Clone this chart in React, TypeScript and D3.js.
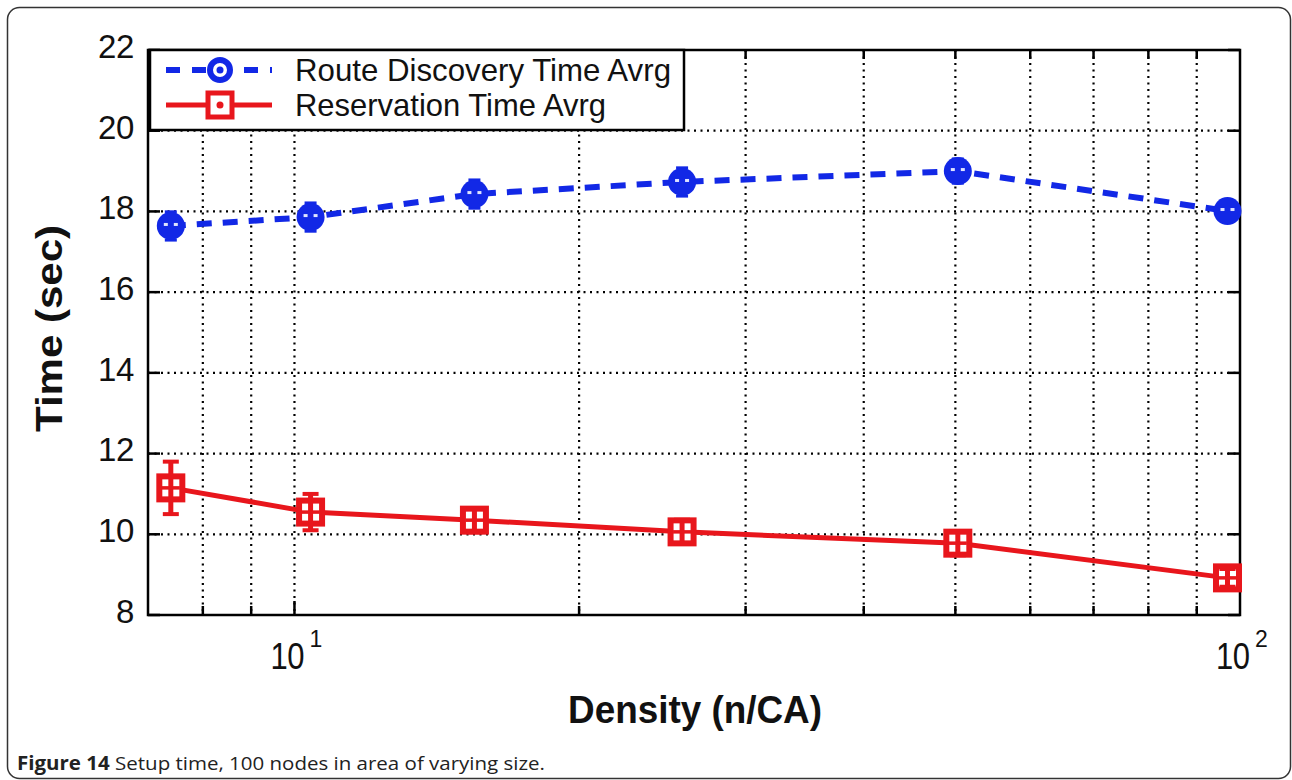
import React from "react";
import * as d3 from "d3";

const density = [7.4, 10.4, 15.5, 25.7, 50.3, 97];
const routeDiscovery = [17.64, 17.86, 18.43, 18.73, 19.0, 18.01];
const routeErr = [0.35, 0.35, 0.35, 0.35, 0.3, 0.25];
const reservation = [11.15, 10.55, 10.35, 10.06, 9.78, 8.92];
const reservationErr = [0.65, 0.45, 0.3, 0.3, 0.3, 0.22];
const yTicks = [8, 10, 12, 14, 16, 18, 20, 22];
const xGrid = [8, 9, 10, 20, 30, 40, 50, 60, 70, 80, 90];
const xMajor = [10, 100];
const legendLabels = ["Route Discovery Time Avrg", "Reservation Time Avrg"];
const legendLengths = [376, 311];

const BLUE = "#1228e6";
const RED = "#e8161c";

export default function App() {
  const L = 148, R = 1240, T = 50, B = 615;
  const x = d3.scaleLog().domain([7, 100]).range([L, R]);
  const y = d3.scaleLinear().domain([8, 22]).range([B, T]);
  const line = d3.line<number>().x((_, i) => x(density[i])).y((d) => y(d));
  const font = "'Liberation Sans', Arial, sans-serif";

  return (
    <svg width={1292} height={780} style={{ position: "absolute", left: 0, top: 0, background: "#fff" }}>
      <rect x={7.5} y={7.5} width={1283} height={771} rx={12} fill="#fff" stroke="#333" strokeWidth={1.5} />
      {/* grid */}
      {xGrid.map((v) => (
        <line key={"gx" + v} x1={x(v)} x2={x(v)} y1={T} y2={B} stroke="#000" strokeWidth={2.2} strokeDasharray="2 4.5" />
      ))}
      {yTicks.filter((v) => v > 8 && v < 22).map((v) => (
        <line key={"gy" + v} x1={L} x2={R} y1={y(v)} y2={y(v)} stroke="#000" strokeWidth={2.2} strokeDasharray="2 4.5" />
      ))}
      {/* ticks */}
      {yTicks.map((v) => (
        <g key={"ty" + v}>
          <line x1={L} x2={L + 12} y1={y(v)} y2={y(v)} stroke="#000" strokeWidth={2.5} />
          <line x1={R} x2={R - 12} y1={y(v)} y2={y(v)} stroke="#000" strokeWidth={2.5} />
          <text x={134} y={y(v) - 4} dy="0.36em" textAnchor="end" fontFamily={font} fontSize={33} letterSpacing={-0.3} fill="#111">{v}</text>
        </g>
      ))}
      {xGrid.map((v) => (
        <g key={"tx" + v}>
          <line x1={x(v)} x2={x(v)} y1={B} y2={B - (v === 10 ? 14 : 9)} stroke="#000" strokeWidth={2.5} />
          <line x1={x(v)} x2={x(v)} y1={T} y2={T + (v === 10 ? 14 : 9)} stroke="#000" strokeWidth={2.5} />
        </g>
      ))}
      {xMajor.map((v) => (
        <g key={"xl" + v}>
          <g transform={`translate(${x(v) - 24},669) scale(1,1.2)`}>
            <text x={0} y={0} fontFamily={font} fontSize={31} letterSpacing={-0.5} fill="#111">10</text>
          </g>
          <text x={x(v) + 15} y={647} fontFamily={font} fontSize={23} fill="#111">{Math.round(Math.log10(v))}</text>
        </g>
      ))}
      <rect x={L} y={T} width={R - L} height={B - T} fill="none" stroke="#000" strokeWidth={2.5} />

      {/* series lines */}
      <path d={line(routeDiscovery) || ""} fill="none" stroke={BLUE} strokeWidth={6} strokeDasharray="15 11" />
      <path d={line(reservation) || ""} fill="none" stroke={RED} strokeWidth={5} />

      {/* markers + error bars */}
      {routeDiscovery.map((v, i) => {
        const cx = x(density[i]), cy = y(v);
        const y1 = y(v + routeErr[i]), y2 = y(v - routeErr[i]);
        return (
          <g key={"rd" + i}>
            <line x1={cx} x2={cx} y1={y1} y2={y2} stroke={BLUE} strokeWidth={4} />
            <line x1={cx - 6} x2={cx + 6} y1={y1} y2={y1} stroke={BLUE} strokeWidth={3} />
            <line x1={cx - 6} x2={cx + 6} y1={y2} y2={y2} stroke={BLUE} strokeWidth={3} />
            <circle cx={cx} cy={cy} r={14} fill={BLUE} />
            <rect x={cx - 7} y={cy - 3} width={4} height={3} fill="#dfe3ff" />
            <rect x={cx + 3} y={cy - 3} width={4} height={3} fill="#dfe3ff" />
          </g>
        );
      })}
      {reservation.map((v, i) => {
        const cx = x(density[i]), cy = y(v);
        const y1 = y(v + reservationErr[i]), y2 = y(v - reservationErr[i]);
        return (
          <g key={"rs" + i}>
            <rect x={cx - 11.5} y={cy - 11.5} width={23} height={23} fill="#fff" stroke={RED} strokeWidth={6} />
            <line x1={cx} x2={cx} y1={y1} y2={y2} stroke={RED} strokeWidth={5} />
            <line x1={cx - 8} x2={cx + 8} y1={y1} y2={y1} stroke={RED} strokeWidth={4} />
            <line x1={cx - 8} x2={cx + 8} y1={y2} y2={y2} stroke={RED} strokeWidth={4} />
            <line x1={cx - 9} x2={cx + 9} y1={cy} y2={cy} stroke={RED} strokeWidth={3.5} />
          </g>
        );
      })}

      {/* legend */}
      <rect x={150} y={50} width={534} height={80} fill="#fff" stroke="#000" strokeWidth={2.5} />
      <line x1={166} x2={272} y1={70} y2={70} stroke={BLUE} strokeWidth={6} strokeDasharray="14 12" />
      <circle cx={220} cy={70} r={10} fill="#fff" stroke={BLUE} strokeWidth={6} />
      <circle cx={220} cy={70} r={3.5} fill={BLUE} />
      <line x1={166} x2={272} y1={105} y2={105} stroke={RED} strokeWidth={5} />
      <rect x={208} y={93} width={24} height={24} fill="#fff" stroke={RED} strokeWidth={5} />
      <circle cx={220} cy={105} r={3.5} fill={RED} />
      {legendLabels.map((t, i) => (
        <text key={t} x={295} y={69 + i * 35} dy="0.36em" fontFamily={font} fontSize={32} textLength={legendLengths[i]} lengthAdjust="spacingAndGlyphs" fill="#111">{t}</text>
      ))}

      {/* axis titles */}
      <text x={568} y={723} fontFamily={font} fontWeight="bold" fontSize={38} textLength={254} lengthAdjust="spacingAndGlyphs" fill="#111">Density (n/CA)</text>
      <text transform="translate(62,432) rotate(-90)" fontFamily={font} fontWeight="bold" fontSize={37} textLength={207} lengthAdjust="spacingAndGlyphs" fill="#111">Time (sec)</text>

      {/* caption */}
      <text x={17} y={770} fontFamily="'Open Sans', 'Noto Sans', sans-serif" fontSize={19} textLength={528} lengthAdjust="spacingAndGlyphs" fill="#222">
        <tspan fontWeight="bold">Figure 14</tspan> Setup time, 100 nodes in area of varying size.
      </text>
    </svg>
  );
}
